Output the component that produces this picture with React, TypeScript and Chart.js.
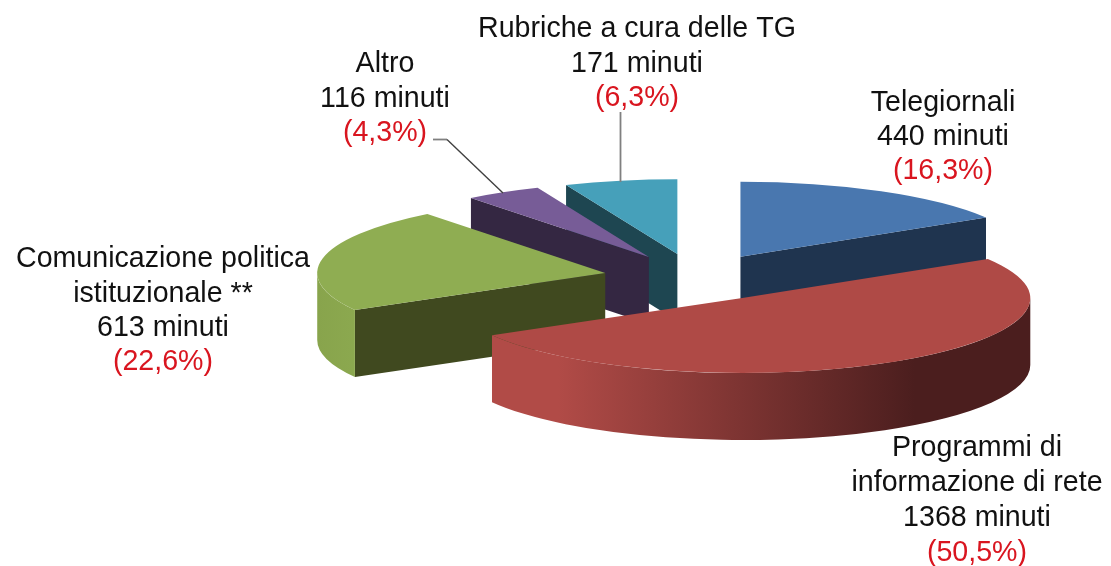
import React, { useEffect, useRef } from "react";
import { Chart, registerables } from "chart.js";

Chart.register(...registerables);

const categories = ["Telegiornali", "Programmi di informazione di rete", "Comunicazione politica istituzionale **", "Altro", "Rubriche a cura delle TG"];
const minutes = [440, 1368, 613, 116, 171];
const percentLabels = ["(16,3%)", "(50,5%)", "(22,6%)", "(4,3%)", "(6,3%)"];
const nameLines = [["Telegiornali"], ["Programmi di", "informazione di rete"], ["Comunicazione politica", "istituzionale **"], ["Altro"], ["Rubriche a cura delle TG"]];
const topColors = ["#4977AF", "#AF4A46", "#8FAD52", "#775C97", "#46A0BA"];
const wallColors = ["#1F344F", "#4B1E1E", "#40491F", "#342742", "#1E4651"];

const RADIUS = 288;
const TILT = 0.26;
const EXPLODE = 92;
const DEPTH = 67;
const FONT = '28.6px "Liberation Sans", Arial, sans-serif';

// first line's centre, line height, per label
const labelPlacement = [
  { x: 943, y: 103, step: 34 },
  { x: 977, y: 448.5, step: 35 },
  { x: 163, y: 259.5, step: 34.3 },
  { x: 385, y: 64.5, step: 34.5 },
  { x: 637, y: 29.5, step: 34.5 },
];

const pie3d = {
  id: "pie3d",
  beforeDatasetsDraw(chart: any) {
    const ctx = chart.ctx as CanvasRenderingContext2D;
    const arcs = chart.getDatasetMeta(0).data as any[];
    const order = arcs
      .map((arc, i) => ({ arc, i, half: (arc.startAngle + arc.endAngle) / 2 }))
      .sort((a, b) => Math.sin(a.half) - Math.sin(b.half));

    for (const { arc, i, half } of order) {
      const ox = arc.x + Math.cos(half) * EXPLODE;
      const oy = arc.y + Math.sin(half) * EXPLODE * TILT;
      const r = arc.outerRadius;
      const ry = r * TILT;
      const pt = (a: number) => [ox + r * Math.cos(a), oy + ry * Math.sin(a)];

      const radial = (a: number) => {
        const [px, py] = pt(a);
        ctx.beginPath();
        ctx.moveTo(ox, oy);
        ctx.lineTo(px, py);
        ctx.lineTo(px, py + DEPTH);
        ctx.lineTo(ox, oy + DEPTH);
        ctx.closePath();
        ctx.fillStyle = wallColors[i];
        ctx.fill();
      };
      if (-Math.cos(arc.startAngle) > 1e-6) radial(arc.startAngle);
      if (Math.cos(arc.endAngle) > 1e-6) radial(arc.endAngle);

      const lo = Math.max(arc.startAngle, 0);
      const hi = Math.min(arc.endAngle, Math.PI);
      if (hi > lo) {
        const grad = ctx.createLinearGradient(ox - r, 0, ox + r, 0);
        if (i === 1) {
          grad.addColorStop(0, "#B14B47");
          grad.addColorStop(0.18, "#B14B47");
          grad.addColorStop(0.8, "#4B1E1E");
          grad.addColorStop(1, "#4B1E1E");
        } else {
          grad.addColorStop(0, "#88A44C");
          grad.addColorStop(0.13, "#8FAD52");
          grad.addColorStop(1, "#8FAD52");
        }
        ctx.beginPath();
        ctx.ellipse(ox, oy, r, ry, 0, lo, hi);
        ctx.ellipse(ox, oy + DEPTH, r, ry, 0, hi, lo, true);
        ctx.closePath();
        ctx.fillStyle = grad;
        ctx.fill();
      }

      ctx.save();
      ctx.translate(ox, oy);
      ctx.scale(1, TILT);
      ctx.translate(-arc.x, -arc.y);
      arc.draw(ctx);
      ctx.restore();
    }
    return false;
  },
  afterDraw(chart: any) {
    const ctx = chart.ctx as CanvasRenderingContext2D;
    ctx.save();
    // leader lines
    ctx.strokeStyle = "#808080";
    ctx.lineWidth = 1.8;
    ctx.beginPath();
    ctx.moveTo(620.5, 112);
    ctx.lineTo(620.5, 182);
    ctx.stroke();
    ctx.beginPath();
    ctx.moveTo(433, 139.5);
    ctx.lineTo(447, 139.5);
    ctx.stroke();
    ctx.strokeStyle = "#404040";
    ctx.lineWidth = 1.4;
    ctx.beginPath();
    ctx.moveTo(447, 139.5);
    ctx.lineTo(503, 193);
    ctx.stroke();

    ctx.font = FONT;
    ctx.textAlign = "center";
    ctx.textBaseline = "middle";
    categories.forEach((_, i) => {
      const place = labelPlacement[i];
      const lines = [...nameLines[i], `${minutes[i]} minuti`];
      lines.forEach((line, n) => {
        ctx.fillStyle = "#111111";
        ctx.fillText(line, place.x, place.y + n * place.step);
      });
      ctx.fillStyle = "#D9151F";
      ctx.fillText(percentLabels[i], place.x, place.y + lines.length * place.step);
    });
    ctx.restore();
  },
};

export default function App() {
  const ref = useRef<HTMLCanvasElement | null>(null);
  useEffect(() => {
    const chart = new Chart(ref.current as HTMLCanvasElement, {
      type: "pie",
      data: {
        labels: categories,
        datasets: [{ data: minutes, backgroundColor: topColors, borderWidth: 0 }],
      },
      options: {
        animation: false,
        responsive: false,
        radius: RADIUS,
        layout: { padding: { left: 280, bottom: 11 } },
        plugins: { legend: { display: false }, tooltip: { enabled: false } },
      } as any,
      plugins: [pie3d as any],
    });
    return () => chart.destroy();
  }, []);
  return (
    <div style={{ position: "absolute", left: 0, top: 0, width: 1111, height: 566, background: "#fff" }}>
      <canvas ref={ref} width={1111} height={566} style={{ display: "block" }} />
    </div>
  );
}
